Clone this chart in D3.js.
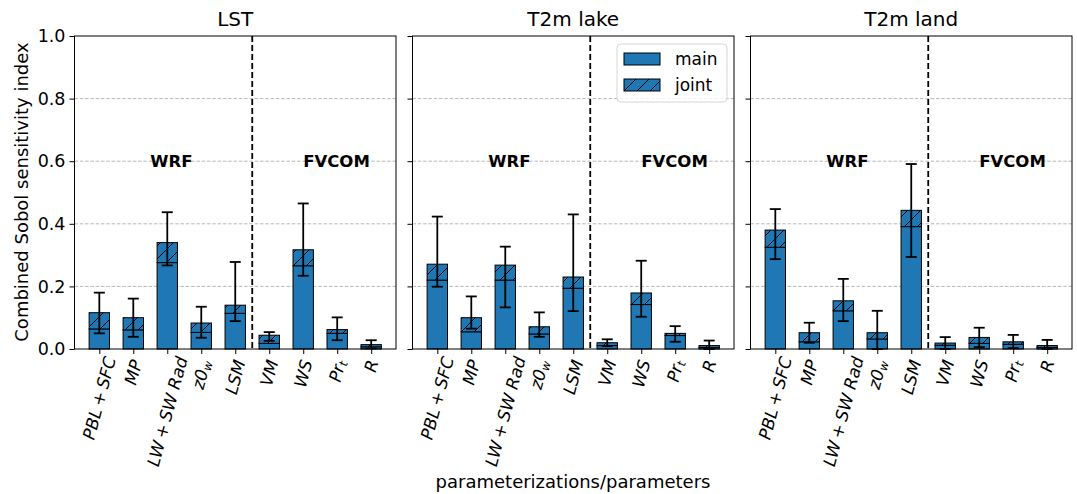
<!DOCTYPE html>
<html><head><meta charset="utf-8">
<script src="https://cdn.jsdelivr.net/npm/d3@7"></script>
<style>body{margin:0;background:#fff} svg{display:block;font-family:"DejaVu Sans",sans-serif}</style>
</head><body><svg id="c" width="1077" height="494"></svg>
<script>
// ---------------- data ----------------
const panelTitles = ["LST", "T2m lake", "T2m land"];
const params = ["PBL+SFC", "MP", "LW+SW Rad", "z0_w", "LSM", "VM", "WS", "Pr_t", "R"];
const yTickValues = [0.0, 0.2, 0.4, 0.6, 0.8, 1.0];
const groupLabels = ["WRF", "FVCOM"];

// total index (main + joint), main index, error-bar bounds
const totalLST  = [0.116, 0.100, 0.340, 0.083, 0.140, 0.044, 0.317, 0.062, 0.014];
const mainLST   = [0.064, 0.061, 0.276, 0.053, 0.114, 0.018, 0.266, 0.050, 0.007];
const errLoLST  = [0.050, 0.039, 0.267, 0.036, 0.089, 0.026, 0.234, 0.028, 0.002];
const errHiLST  = [0.180, 0.161, 0.437, 0.135, 0.278, 0.054, 0.465, 0.101, 0.028];

const totalLake = [0.271, 0.100, 0.268, 0.071, 0.230, 0.020, 0.179, 0.050, 0.011];
const mainLake  = [0.220, 0.055, 0.220, 0.048, 0.194, 0.011, 0.142, 0.043, 0.005];
const errLoLake = [0.199, 0.065, 0.133, 0.039, 0.121, 0.009, 0.103, 0.023, 0.000];
const errHiLake = [0.423, 0.168, 0.327, 0.117, 0.430, 0.031, 0.282, 0.073, 0.027];

const totalLand = [0.380, 0.052, 0.154, 0.052, 0.443, 0.019, 0.037, 0.023, 0.011];
const mainLand  = [0.325, 0.023, 0.122, 0.032, 0.391, 0.012, 0.018, 0.015, 0.005];
const errLoLand = [0.287, 0.020, 0.089, 0.000, 0.294, 0.000, 0.006, 0.003, 0.000];
const errHiLand = [0.447, 0.084, 0.224, 0.122, 0.591, 0.038, 0.068, 0.045, 0.029];

const panelData = [
  {title: panelTitles[0], total: totalLST,  main: mainLST,  lo: errLoLST,  hi: errHiLST},
  {title: panelTitles[1], total: totalLake, main: mainLake, lo: errLoLake, hi: errHiLake},
  {title: panelTitles[2], total: totalLand, main: mainLand, lo: errLoLand, hi: errHiLand}
];

// ---------------- layout ----------------
const BLUE = "#1f77b4";
const FS = 17;
const panelLeft = [74.5, 412.5, 750.5];
const panelW = 321.5;
const yTop = 36, yBottom = 349;
const barW = 0.6;

const svg = d3.select("#c");
const defs = svg.append("defs");
const pat = defs.append("pattern").attr("id", "hatch")
  .attr("patternUnits", "userSpaceOnUse").attr("width", 13).attr("height", 13);
pat.append("path").attr("d", "M0,13 L13,0 M-3,3 L3,-3 M10,16 L16,10")
  .attr("stroke", "#000").attr("stroke-width", 1).attr("fill", "none");

const y = d3.scaleLinear().domain([0, 1]).range([yBottom, yTop]);

function labelTspans(sel, s) {
  const parts = [];
  let base = s, sub = null;
  if (s.includes("_")) { [base, sub] = s.split("_"); }
  const segs = base.split("+");
  segs.forEach((seg, i) => {
    if (i > 0) parts.push({t: "+", dx: 3.5, after: 3.5});
    parts.push({t: seg});
  });
  let pendingDx = 0;
  parts.forEach(p => {
    const ts = sel.append("tspan").text(p.t);
    const dx = (p.dx || 0) + pendingDx;
    if (dx) ts.attr("dx", dx);
    pendingDx = p.after || 0;
  });
  if (sub) {
    sel.append("tspan").text(sub).attr("font-size", FS * 0.7).attr("dy", FS * 0.25);
  }
}

panelData.forEach((pd, pi) => {
  const L = panelLeft[pi];
  const x = d3.scaleLinear().domain([-0.73, 8.73]).range([L, L + panelW]);
  const g = svg.append("g");

  g.selectAll(".grid").data(yTickValues.filter(v => v > 0 && v < 1)).enter()
    .append("line")
    .attr("x1", L).attr("x2", L + panelW)
    .attr("y1", d => y(d)).attr("y2", d => y(d))
    .attr("stroke", "#b0b0b0").attr("stroke-width", 0.9).attr("stroke-dasharray", "3.5,1.8");

  const idx = d3.range(params.length);
  const bw = x(barW) - x(0);
  g.selectAll(".main").data(idx).enter().append("rect")
    .attr("x", i => x(i) - bw / 2).attr("width", bw)
    .attr("y", i => y(pd.main[i])).attr("height", i => y(0) - y(pd.main[i]))
    .attr("fill", BLUE).attr("stroke", "#000").attr("stroke-width", 1);
  g.selectAll(".jointbg").data(idx).enter().append("rect")
    .attr("x", i => x(i) - bw / 2).attr("width", bw)
    .attr("y", i => y(pd.total[i])).attr("height", i => y(pd.main[i]) - y(pd.total[i]))
    .attr("fill", BLUE);
  g.selectAll(".joint").data(idx).enter().append("rect")
    .attr("x", i => x(i) - bw / 2).attr("width", bw)
    .attr("y", i => y(pd.total[i])).attr("height", i => y(pd.main[i]) - y(pd.total[i]))
    .attr("fill", "url(#hatch)").attr("stroke", "#000").attr("stroke-width", 1);

  const eb = g.selectAll(".eb").data(idx).enter().append("g")
    .attr("stroke", "#000").attr("stroke-width", 1.8);
  eb.append("line").attr("x1", i => x(i)).attr("x2", i => x(i))
    .attr("y1", i => y(pd.lo[i])).attr("y2", i => y(pd.hi[i]));
  eb.append("line").attr("x1", i => x(i) - 5.5).attr("x2", i => x(i) + 5.5)
    .attr("y1", i => y(pd.lo[i])).attr("y2", i => y(pd.lo[i]));
  eb.append("line").attr("x1", i => x(i) - 5.5).attr("x2", i => x(i) + 5.5)
    .attr("y1", i => y(pd.hi[i])).attr("y2", i => y(pd.hi[i]));

  g.append("line").attr("x1", x(4.5)).attr("x2", x(4.5)).attr("y1", yTop).attr("y2", yBottom)
    .attr("stroke", "#000").attr("stroke-width", 1.8).attr("stroke-dasharray", "6,3");

  g.append("text").attr("x", x(1.5)).attr("y", y(0.6)).attr("dy", "0.36em")
    .attr("font-size", 16.5).attr("font-weight", "bold").text(groupLabels[0]);
  g.append("text").attr("x", x(6)).attr("y", y(0.6)).attr("dy", "0.36em")
    .attr("font-size", 16.5).attr("font-weight", "bold").text(groupLabels[1]);

  g.append("rect").attr("x", L).attr("y", yTop).attr("width", panelW).attr("height", yBottom - yTop)
    .attr("fill", "none").attr("stroke", "#000").attr("stroke-width", 1);

  const yAxis = d3.axisLeft(y).tickValues(yTickValues).tickSize(5).tickPadding(4)
    .tickFormat(pi === 0 ? d3.format(".1f") : () => "");
  const ya = g.append("g").attr("transform", `translate(${L},0)`).call(yAxis);
  ya.select(".domain").remove();
  ya.selectAll("text").attr("font-size", 17.5).attr("font-family", "DejaVu Sans").attr("fill", "#000");

  const xAxis = d3.axisBottom(x).tickValues(idx).tickSize(5).tickFormat(() => "");
  const xa = g.append("g").attr("transform", `translate(0,${yBottom})`).call(xAxis);
  xa.select(".domain").remove();

  const theta = 75 * Math.PI / 180;
  params.forEach((p, i) => {
    const t = g.append("text").attr("font-size", FS).attr("font-style", "italic")
      .attr("text-anchor", "middle").attr("dominant-baseline", "central");
    labelTspans(t, p);
    const len = t.node().getComputedTextLength();
    const h = FS * 1.05;
    const H = len * Math.sin(theta) + h * Math.cos(theta);
    const cx = x(i), cy = yBottom + 9 + H / 2;
    t.attr("x", cx).attr("y", cy).attr("transform", `rotate(-75,${cx},${cy})`);
  });

  g.append("text").attr("x", L + panelW / 2).attr("y", 26).attr("text-anchor", "middle")
    .attr("font-size", 20).text(pd.title);
});

// legend in middle panel
{
  const lx = 617, ly = 44;
  const lg = svg.append("g");
  lg.append("rect").attr("x", lx).attr("y", ly).attr("width", 110).attr("height", 58)
    .attr("rx", 4).attr("fill", "#fff").attr("fill-opacity", 0.8)
    .attr("stroke", "#d6d6d6").attr("stroke-width", 1);
  lg.append("rect").attr("x", lx + 7).attr("y", ly + 9).attr("width", 36).attr("height", 12)
    .attr("fill", BLUE).attr("stroke", "#000").attr("stroke-width", 1);
  lg.append("rect").attr("x", lx + 7).attr("y", ly + 35).attr("width", 36).attr("height", 12)
    .attr("fill", BLUE);
  lg.append("rect").attr("x", lx + 7).attr("y", ly + 35).attr("width", 36).attr("height", 12)
    .attr("fill", "url(#hatch)").attr("stroke", "#000").attr("stroke-width", 1);
  lg.append("text").attr("x", lx + 58).attr("y", ly + 15).attr("dy", "0.36em")
    .attr("font-size", FS).text("main");
  lg.append("text").attr("x", lx + 58).attr("y", ly + 41).attr("dy", "0.36em")
    .attr("font-size", FS).text("joint");
}

svg.append("text").attr("transform", "translate(28,192) rotate(-90)").attr("text-anchor", "middle")
  .attr("font-size", 18).text("Combined Sobol sensitivity index");
svg.append("text").attr("x", 573).attr("y", 488).attr("text-anchor", "middle")
  .attr("font-size", 18).text("parameterizations/parameters");
</script></body></html>
